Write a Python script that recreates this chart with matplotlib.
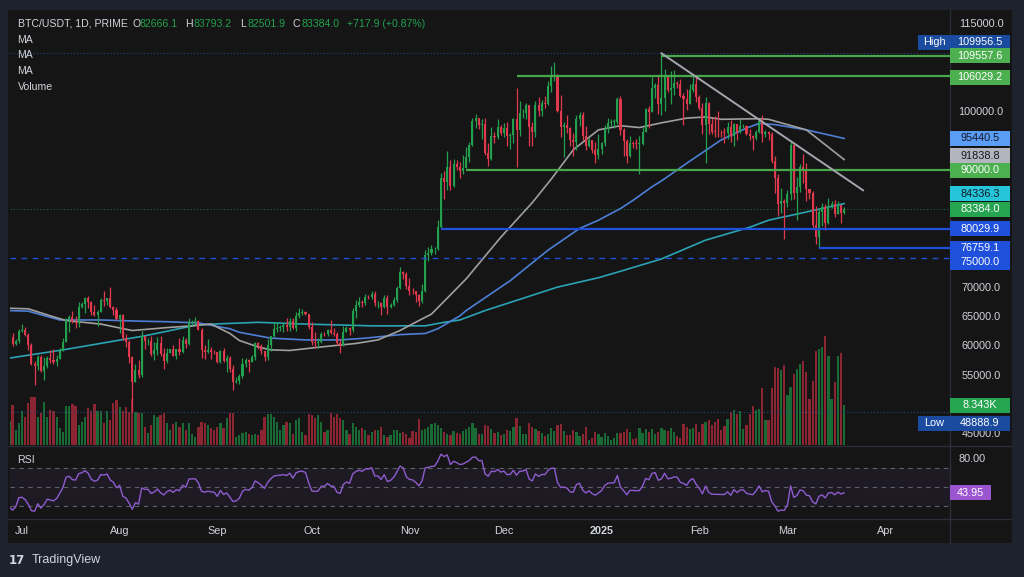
import numpy as np
import pandas as pd
import matplotlib
matplotlib.use("Agg")
import matplotlib.pyplot as plt
import matplotlib.dates as mdates
from matplotlib.patches import Rectangle
from matplotlib.lines import Line2D

plt.rcParams['font.family'] = ['Liberation Sans', 'DejaVu Sans']

W, H = 1024, 577

# ---------------- data (prices in k USDT, volume in k) ----------------
dates = pd.date_range('2024-06-27', '2025-03-19', freq='D')
first_open = 60.86

closes = [
    61.68, 60.32, 60.89, 62.68,
    # Jul
    62.77, 62.02, 60.21, 57.05, 56.64, 58.23, 55.85, 56.70, 58.05, 57.72, 57.34, 57.89, 59.20, 60.80, 64.72, 65.04,
    64.09, 63.97, 66.66, 67.14, 68.17, 67.53, 65.94, 65.37, 65.78, 67.91, 67.81, 68.25, 66.78, 66.19, 64.62,
    # Aug
    65.35, 61.50, 60.70, 58.16, 53.99, 56.03, 55.13, 61.69, 60.84, 60.92, 58.71, 59.35, 60.60, 58.74, 57.56, 58.87,
    59.49, 58.43, 59.49, 59.01, 61.16, 60.38, 64.09, 64.18, 64.25, 62.83, 59.42, 59.03, 59.37, 59.12, 58.97,
    # Sep
    57.30, 59.13, 57.48, 57.97, 56.16, 53.96, 54.16, 54.87, 57.05, 57.65, 57.34, 58.13, 60.57, 60.01, 59.18, 58.21,
    60.31, 61.76, 62.95, 63.20, 63.35, 63.58, 63.34, 64.26, 63.14, 65.18, 65.77, 65.86, 65.60, 63.30,
    # Oct
    60.81, 60.65, 60.75, 62.07, 62.06, 62.82, 62.22, 62.13, 60.58, 60.27, 62.45, 63.19, 62.85, 66.05, 67.04, 67.61,
    67.40, 68.42, 68.36, 69.00, 67.37, 67.38, 66.67, 68.16, 66.64, 67.01, 67.94, 69.91, 72.72, 72.34, 70.22,
    # Nov
    69.50, 69.37, 68.74, 67.80, 69.36, 75.64, 75.90, 76.55, 76.68, 80.37, 88.70, 87.96, 90.61, 87.25, 91.07, 90.59,
    89.86, 90.46, 92.31, 94.29, 98.35, 98.89, 97.67, 97.90, 93.01, 91.97, 95.86, 95.64, 97.46, 96.41,
    # Dec
    97.19, 95.84, 96.00, 98.77, 96.95, 99.74, 99.83, 101.11, 97.36, 96.59, 101.13, 100.04, 101.42, 101.37, 104.30,
    106.06, 106.13, 100.20, 97.46, 97.76, 97.22, 95.10, 94.88, 98.68, 99.39, 95.81, 94.16, 95.16, 93.53, 92.64, 93.58,
    # Jan
    94.59, 96.98, 98.10, 98.24, 98.31, 102.08, 96.92, 95.04, 92.48, 94.70, 94.57, 94.49, 94.52, 96.53, 100.50, 99.99,
    104.08, 104.56, 101.34, 102.26, 106.14, 103.65, 103.96, 104.82, 104.71, 102.62, 102.08, 101.33, 103.73, 104.73, 102.43,
    # Feb
    100.64, 97.69, 101.41, 97.87, 96.62, 96.55, 96.50, 96.46, 96.45, 97.43, 95.78, 97.87, 96.61, 97.50, 97.57, 96.12,
    95.78, 95.54, 96.62, 98.33, 96.13, 96.58, 96.28, 91.55, 88.74, 84.35, 84.70, 84.37,
    # Mar
    86.05, 94.27, 86.12, 87.19, 90.62, 89.96, 86.74, 86.15, 80.73, 78.60, 82.86, 83.72, 81.07, 83.97, 84.34, 82.58,
    84.08, 82.6661, 83.384,
]

highs = [
    62.29, 62.20, 61.20, 63.00,
    63.80, 63.30, 62.30, 60.50, 57.50, 58.50, 58.50, 58.20, 58.30, 59.40, 59.50, 58.50, 59.80, 61.40, 64.90, 65.40,
    66.10, 65.10, 67.50, 67.60, 68.40, 68.50, 67.80, 67.10, 66.20, 68.20, 69.40, 68.30, 70.10, 66.90, 66.70,
    65.60, 65.60, 62.10, 61.10, 58.30, 57.00, 57.70, 62.70, 61.70, 61.50, 61.80, 60.70, 61.60, 61.80, 59.80, 59.80,
    59.60, 60.30, 59.60, 61.40, 61.80, 61.40, 64.90, 64.50, 65.00, 64.50, 63.20, 60.20, 61.20, 59.90, 59.40,
    59.10, 59.40, 59.80, 58.50, 58.30, 56.90, 54.80, 55.30, 58.10, 58.00, 57.90, 58.60, 60.70, 60.70, 60.40, 59.20,
    61.30, 61.80, 64.10, 64.10, 63.60, 64.00, 64.80, 64.80, 64.80, 65.80, 66.50, 66.30, 66.10, 65.60,
    64.10, 62.40, 61.50, 62.50, 62.40, 62.90, 64.50, 63.20, 62.50, 61.30, 63.40, 63.50, 63.30, 66.50, 67.90, 68.40,
    67.90, 68.90, 68.70, 69.40, 69.50, 67.80, 67.50, 68.80, 68.80, 67.40, 68.40, 70.30, 73.60, 72.90, 72.70,
    71.60, 70.00, 69.40, 69.00, 70.60, 76.40, 76.90, 77.20, 76.90, 81.50, 89.50, 89.90, 93.30, 91.80, 91.90, 91.80,
    91.50, 92.60, 94.00, 94.90, 99.00, 99.60, 98.80, 98.70, 98.90, 94.70, 97.40, 96.60, 98.70, 97.80,
    98.00, 98.20, 96.30, 99.00, 104.00, 101.90, 100.50, 101.40, 101.20, 98.30, 101.90, 102.50, 102.00, 102.70, 105.20,
    107.80, 108.40, 106.50, 102.80, 98.20, 99.50, 97.40, 96.40, 99.40, 99.90, 99.90, 97.50, 95.50, 95.20, 94.90, 96.20,
    94.90, 97.80, 98.90, 98.70, 98.80, 102.50, 102.70, 97.30, 95.30, 95.80, 95.00, 95.40, 95.90, 97.40, 100.70, 100.90,
    105.90, 104.90, 106.30, 109.9565, 107.20, 106.30, 106.90, 107.10, 105.30, 105.50, 103.20, 103.80, 104.80, 106.50, 106.00,
    102.80, 101.50, 102.50, 101.70, 99.00, 99.20, 100.10, 96.90, 97.30, 98.30, 98.50, 98.10, 97.90, 98.80, 97.90, 97.70,
    97.00, 96.00, 96.90, 98.70, 99.50, 96.90, 96.70, 96.50, 92.50, 89.30, 87.00, 85.10,
    86.60, 94.90, 94.40, 88.90, 91.00, 92.80, 91.20, 86.90, 86.50, 83.90, 83.60, 84.40, 84.30, 85.30, 84.70, 85.00,
    84.70, 84.10, 83.7932,
]

lows = [
    60.59, 60.00, 60.30, 60.60,
    62.50, 61.80, 59.40, 56.80, 53.50, 56.00, 55.70, 54.30, 56.30, 57.20, 57.00, 56.60, 57.80, 59.20, 60.70, 62.40,
    64.00, 63.20, 63.30, 66.50, 65.70, 66.60, 65.40, 65.10, 63.40, 65.80, 66.80, 67.00, 66.50, 65.30, 64.50,
    62.30, 61.10, 59.90, 57.20, 48.8889, 54.00, 54.60, 54.80, 59.60, 60.30, 58.40, 57.60, 58.50, 58.40, 56.10, 57.10,
    58.80, 58.40, 57.80, 58.60, 58.80, 59.80, 60.30, 63.60, 63.80, 62.80, 58.10, 57.90, 58.80, 57.80, 58.70,
    57.20, 57.10, 57.40, 55.60, 55.70, 52.60, 53.70, 53.60, 54.60, 56.40, 55.60, 57.30, 57.60, 59.50, 58.70, 57.50,
    57.60, 59.20, 61.60, 62.40, 62.70, 62.40, 62.70, 62.70, 62.90, 62.70, 64.80, 65.40, 65.40, 62.90,
    60.20, 59.80, 59.80, 60.50, 61.70, 61.80, 62.10, 61.80, 60.30, 58.90, 60.00, 62.40, 62.00, 62.40, 64.80, 66.70,
    66.70, 67.10, 68.00, 68.10, 66.80, 66.60, 65.30, 66.60, 65.50, 66.50, 66.80, 67.50, 69.70, 71.40, 69.70,
    68.80, 69.00, 67.50, 66.80, 67.40, 69.30, 74.50, 75.60, 75.80, 76.50, 80.20, 85.10, 86.60, 86.70, 87.10, 90.10,
    88.70, 89.40, 90.40, 91.50, 94.10, 97.20, 97.10, 95.40, 92.60, 90.80, 91.80, 94.70, 95.30, 96.00,
    95.70, 94.20, 93.60, 94.70, 90.50, 95.90, 99.00, 98.70, 94.20, 94.20, 95.70, 99.30, 99.20, 100.60, 101.20,
    103.30, 105.30, 100.00, 95.70, 92.20, 96.40, 94.20, 92.40, 93.40, 97.60, 95.20, 93.40, 94.00, 93.00, 91.30, 92.00,
    92.80, 94.20, 96.40, 97.50, 97.30, 97.90, 96.10, 92.50, 91.20, 92.20, 93.80, 93.70, 89.30, 94.30, 96.50, 97.30,
    99.90, 102.30, 99.60, 99.50, 100.10, 103.30, 101.30, 102.80, 104.10, 102.50, 97.80, 100.30, 101.30, 103.30, 101.60,
    100.30, 96.20, 91.20, 96.20, 96.20, 95.70, 95.60, 95.70, 94.70, 95.30, 94.90, 94.10, 95.20, 96.30, 97.20, 96.00,
    95.20, 93.40, 95.20, 96.40, 94.90, 95.70, 95.20, 91.20, 86.10, 82.30, 82.80, 78.30,
    83.80, 85.00, 85.10, 81.50, 86.30, 87.80, 84.70, 85.20, 80.00, 77.50, 76.7591, 80.60, 79.90, 80.80, 83.60, 82.00,
    82.50, 81.10, 82.5019,
]

volume = [
    5.0, 8.4, 3.1, 4.5,
    7.0, 5.9, 8.7, 10.1, 10.1, 5.9, 6.6, 9.0, 5.9, 7.3, 7.0, 5.9, 3.5, 2.8, 8.2, 8.2,
    8.6, 8.2, 4.2, 4.9, 5.9, 7.7, 7.0, 8.6, 7.0, 7.0, 4.5, 7.0, 5.2, 8.8, 9.4,
    8.0, 7.0, 8.0, 6.8, 9.5, 6.8, 6.6, 6.6, 3.8, 2.5, 4.2, 6.3, 5.9, 6.3, 6.6, 4.5,
    3.1, 4.4, 4.7, 3.8, 4.5, 3.1, 4.5, 2.4, 1.7, 3.8, 4.9, 4.5, 4.2, 3.5, 3.1,
    3.8, 4.5, 3.5, 5.6, 6.6, 6.6, 1.7, 2.1, 2.6, 2.8, 2.4, 2.1, 2.3, 2.1, 3.1, 5.9,
    6.4, 6.4, 5.9, 4.7, 3.1, 4.2, 4.9, 4.5, 2.4, 5.2, 5.6, 2.8, 2.1, 6.4,
    6.3, 5.6, 6.3, 4.9, 2.8, 3.1, 6.6, 5.9, 6.5, 5.6, 5.2, 3.1, 2.4, 4.5, 3.8, 3.1,
    3.5, 3.1, 2.1, 2.8, 3.1, 3.1, 3.8, 2.1, 1.7, 2.1, 3.1, 3.1, 2.6, 2.8, 2.3,
    1.4, 3.0, 2.8, 5.4, 3.1, 3.3, 3.8, 4.3, 4.5, 4.2, 3.5, 2.8, 2.4, 2.1, 3.0, 2.5,
    2.2, 3.0, 3.4, 3.8, 4.5, 3.6, 2.4, 2.2, 4.2, 3.9, 3.3, 2.5, 2.8, 2.0,
    2.4, 3.2, 3.0, 3.8, 5.6, 3.9, 2.2, 2.4, 4.6, 3.8, 3.4, 2.9, 2.6, 1.9, 2.2, 3.6, 2.9, 4.1, 4.4,
    2.9, 2.1, 2.1, 3.1, 2.8, 1.9, 2.4, 3.8, 1.0, 1.5, 2.8, 2.3, 1.6, 2.6, 1.9, 1.0, 1.4, 2.6, 2.6, 2.8,
    3.3, 2.8, 1.2, 1.4, 3.5, 2.6, 3.3, 2.8, 3.3, 2.2, 2.8, 3.5, 3.1, 3.0, 3.5, 2.8, 1.9, 1.5, 4.3, 3.7,
    3.4, 3.6, 4.4, 2.8, 4.3, 4.8, 5.2, 4.2, 4.7, 5.5, 3.1, 4.0, 5.4, 6.8, 7.3, 6.5, 7.0, 3.3, 4.2, 6.5,
    8.2, 7.3, 7.6, 12.0, 5.2, 5.2, 11.8, 16.2, 16.1, 15.7, 16.6, 10.4, 12.2, 14.8, 15.8, 16.9, 17.5, 15.2, 9.5, 13.4,
    19.7, 20.0, 20.4, 22.8, 18.6, 9.5, 13.2, 18.6, 19.3, 8.343,
]

# closes of Jun 7 - Jun 26 2024, only used to warm up the RSI
pre_closes = [69.35, 69.31, 69.65, 69.51, 67.32, 68.24, 66.76, 66.01, 66.19, 66.64,
              66.49, 65.18, 64.96, 64.83, 64.10, 64.25, 63.18, 60.28, 61.81, 60.84]

# moving averages
ma50_dates = ['2024-06-27', '2024-07-03', '2024-07-10', '2024-07-15', '2024-07-26', '2024-08-05', '2024-08-16',
              '2024-08-24', '2024-08-30', '2024-09-05', '2024-09-08', '2024-09-14', '2024-09-18', '2024-09-24',
              '2024-10-04', '2024-10-15', '2024-10-22', '2024-10-29', '2024-11-04', '2024-11-08', '2024-11-19',
              '2024-11-30', '2024-12-10', '2024-12-16', '2024-12-23', '2024-12-31', '2025-01-07', '2025-01-13',
              '2025-01-20', '2025-01-28', '2025-02-03', '2025-02-08', '2025-02-20', '2025-02-23', '2025-03-07',
              '2025-03-19']
ma50 = [66.5, 66.4, 65.2, 64.4, 63.8, 62.7, 63.2, 63.5, 63.8, 62.2, 61.0, 59.9, 59.4, 59.3, 59.9, 60.5, 61.1,
        62.7, 64.4, 65.5, 71.5, 78.6, 84.5, 88.5, 93.5, 96.9, 97.6, 97.3, 98.1, 98.9, 99.1, 98.7, 98.8, 98.7,
        96.9, 91.8388]

ma100_dates = ['2024-06-27', '2024-07-03', '2024-07-13', '2024-07-26', '2024-08-07', '2024-08-16', '2024-08-26',
               '2024-09-05', '2024-09-08', '2024-09-18', '2024-09-29', '2024-10-10', '2024-10-18', '2024-10-29',
               '2024-11-06', '2024-11-10', '2024-11-17', '2024-11-19', '2024-12-03', '2024-12-15', '2024-12-25',
               '2024-12-31', '2025-01-07', '2025-01-11', '2025-01-17', '2025-01-20', '2025-01-28', '2025-02-08',
               '2025-02-16', '2025-02-20', '2025-02-25', '2025-03-07', '2025-03-19']
ma100 = [66.1, 66.0, 64.5, 64.5, 64.3, 64.2, 64.0, 63.0, 62.4, 61.4, 61.1, 61.1, 61.4, 62.0, 62.2, 63.0, 65.2,
         66.1, 71.2, 76.4, 80.1, 81.5, 83.5, 84.9, 87.2, 88.2, 91.2, 95.2, 97.2, 98.0, 97.8, 96.9, 95.4405]

ma200_dates = ['2024-06-27', '2024-07-14', '2024-08-09', '2024-08-26', '2024-09-14', '2024-09-29', '2024-10-20',
               '2024-11-06', '2024-11-12', '2024-11-17', '2024-11-25', '2024-12-18', '2024-12-31', '2025-01-07',
               '2025-01-20', '2025-02-03', '2025-02-17', '2025-02-23', '2025-03-07', '2025-03-19']
ma200 = [58.0, 59.4, 61.8, 63.7, 64.1, 63.8, 63.5, 63.5, 64.1, 64.5, 66.1, 70.1, 71.7, 72.8, 74.9, 78.1, 80.3,
         81.5, 82.9, 84.3363]

# drawn levels
green_levels = [109.5576, 106.0292, 90.0]
green_starts = ['2025-01-20', '2024-12-05', '2024-11-19']
blue_levels = [80.0299, 76.7591]
blue_starts = ['2024-11-11', '2025-03-11']
dashed_level = 75.0
trend_dates = ['2025-01-20', '2025-03-25']
trend_prices = [109.9565, 86.6]
high_val, low_val = 109.9565, 48.8889
rsi_last = 43.95

month_ticks = ['2024-07-01', '2024-08-01', '2024-09-01', '2024-10-01', '2024-11-01', '2024-12-01',
               '2025-01-01', '2025-02-01', '2025-03-01', '2025-04-01']
month_labels = ['Jul', 'Aug', 'Sep', 'Oct', 'Nov', 'Dec', '2025', 'Feb', 'Mar', 'Apr']

# ---------------- colours ----------------
BG_OUT = '#1e222d'
BG_IN = '#151515'
UP, DN = '#22a04e', '#e0394d'
TXT = '#d1d4dc'
GREEN_LINE = '#46a84a'
BLUE_LINE = '#1e50dc'
SEP = '#2a2e39'

fig = plt.figure(figsize=(W / 100, H / 100), dpi=100, facecolor=BG_OUT)


def frect(x0, y0, x1, y1, color, z):
    fig.patches.append(Rectangle((x0 / W, 1 - y1 / H), (x1 - x0) / W, (y1 - y0) / H,
                                 transform=fig.transFigure, fc=color, ec='none', zorder=z))


def ftext(x, y, s, **kw):
    kw.setdefault('color', TXT)
    kw.setdefault('fontsize', 7.8)
    kw.setdefault('va', 'center')
    return fig.text(x / W, 1 - y / H, s, **kw)


def fline(x0, y0, x1, y1):
    fig.lines.append(Line2D([x0 / W, x1 / W], [1 - y0 / H, 1 - y1 / H], transform=fig.transFigure,
                            color=SEP, lw=1, zorder=1))


frect(8, 10, 1012, 543, BG_IN, -5)

rect_main = [10 / W, 1 - 445 / H, 940 / W, 435 / H]
axv = fig.add_axes(rect_main, zorder=1)
ax = fig.add_axes(rect_main, zorder=2, sharex=axv)
axr = fig.add_axes([10 / W, 1 - 518 / H, 940 / W, 71 / H], zorder=2, sharex=axv)
for a in (axv, ax, axr):
    a.set_facecolor('none')
    a.set_axis_off()

jul1 = mdates.date2num(pd.Timestamp('2024-07-01'))
xmin = jul1 - 12 / 3.15
xmax = xmin + 940 / 3.15
ax.set_xlim(xmin, xmax)
ax.set_ylim(43.19, 117.33)
axv.set_ylim(0, 435 / 4.79)
axr.set_ylim(17.4, 92.1)

xs = mdates.date2num(dates)
c = np.array(closes)
hi = np.array(highs)
lo = np.array(lows)
o = np.r_[first_open, c[:-1]]
up = c >= o
cols = np.where(up, UP, DN)

# volume
vcols = np.where(up, '#1a6a36', '#8c2532')
axv.bar(xs, volume, width=0.72, color=vcols, linewidth=0)

# candles
ax.vlines(xs, lo, hi, colors=cols, lw=0.9, zorder=4)
ax.bar(xs, np.maximum(np.abs(c - o), 0.1), bottom=np.minimum(o, c), width=0.66, color=cols,
       linewidth=0, zorder=5)

# moving averages
ax.plot(mdates.date2num(pd.to_datetime(ma200_dates)), ma200, color='#2aa3b4', lw=1.2, zorder=3)
ax.plot(mdates.date2num(pd.to_datetime(ma100_dates)), ma100, color='#4d7fd6', lw=1.2, zorder=3)
ax.plot(mdates.date2num(pd.to_datetime(ma50_dates)), ma50, color='#a0a0a0', lw=1.2, zorder=3)

# levels
for lv, st in zip(green_levels, green_starts):
    ax.hlines(lv, mdates.date2num(pd.Timestamp(st)), xmax, color=GREEN_LINE, lw=1.6, zorder=6)
for lv, st in zip(blue_levels, blue_starts):
    ax.hlines(lv, mdates.date2num(pd.Timestamp(st)), xmax, color=BLUE_LINE, lw=1.6, zorder=6)
ax.axhline(dashed_level, color=BLUE_LINE, lw=1.0, ls=(0, (4, 4)), zorder=6)
ax.axhline(high_val, color='#23457f', lw=0.8, ls=(0, (1, 2)), zorder=2)
ax.axhline(low_val, color='#23457f', lw=0.8, ls=(0, (1, 2)), zorder=2)
ax.axhline(c[-1], color='#1d6a38', lw=0.8, ls=(0, (1, 2)), zorder=2)
ax.plot(mdates.date2num(pd.to_datetime(trend_dates)), trend_prices, color='#a3a6ae', lw=1.4, zorder=6)

# RSI (Wilder, 14)
allc = np.array(pre_closes + closes)
d = np.diff(allc)
g = np.clip(d, 0, None)
ls_ = np.clip(-d, 0, None)
ag, al = g[:14].mean(), ls_[:14].mean()
rsi_all = []
for i in range(14, len(d)):
    ag = (ag * 13 + g[i]) / 14
    al = (al * 13 + ls_[i]) / 14
    rsi_all.append(100 - 100 / (1 + ag / al))
rsi = np.array(rsi_all[len(pre_closes) - 15:])
axr.axhspan(30, 70, color='#7e57c2', alpha=0.09, lw=0)
for lv in (70, 50, 30):
    axr.axhline(lv, color='#5d606b', lw=0.8, ls=(0, (4, 4)))
axr.plot(xs, rsi, color='#8e5ccf', lw=1.0)

# separators
fline(950, 10, 950, 543)
fline(8, 446, 1012, 446)
fline(8, 518.5, 1012, 518.5)


def py(axis, v):
    return H - axis.transData.transform((xmin, v))[1]


def px(axis, v):
    return axis.transData.transform((v, 0))[0]


HL = '#1b4b9e'
# (y in px, text, background, text colour, x0, x1)
tags = [
    (py(ax, high_val) - 11, '109956.5', HL, 'white', 950, 1010),
    (py(ax, high_val) - 11, 'High', HL, 'white', 918, 950),
    (py(ax, green_levels[0]), '109557.6', '#4caf50', 'white', 950, 1010),
    (py(ax, green_levels[1]) + 1, '106029.2', '#4caf50', 'white', 950, 1010),
    (py(ax, ma100[-1]), '95440.5', '#5b9cf6', '#131722', 950, 1010),
    (py(ax, ma50[-1]) - 4, '91838.8', '#b2b5be', '#131722', 950, 1010),
    (py(ax, green_levels[2]), '90000.0', '#4caf50', 'white', 950, 1010),
    (py(ax, ma200[-1]) - 10, '84336.3', '#26c6da', '#131722', 950, 1010),
    (py(ax, c[-1]), '83384.0', '#26a550', 'white', 950, 1010),
    (py(ax, blue_levels[0]), '80029.9', BLUE_LINE, 'white', 950, 1010),
    (py(ax, blue_levels[1]), '76759.1', BLUE_LINE, 'white', 950, 1010),
    (py(ax, dashed_level) + 4, '75000.0', BLUE_LINE, 'white', 950, 1010),
    (py(axv, volume[-1]), f'{volume[-1]:.3f}K', '#26a550', 'white', 950, 1010),
    (py(ax, low_val) + 11.5, '48888.9', HL, 'white', 950, 1010),
    (py(ax, low_val) + 11.5, 'Low', HL, 'white', 918, 950),
    (py(axr, rsi_last), f'{rsi_last:.2f}', '#9b55d0', 'white', 950, 991),
]

# price scale tick labels (hidden where a tag covers them, as on the chart)
tag_ys = [t[0] for t in tags if t[4] == 950]
for p in range(45, 120, 5):
    y = py(ax, p)
    if 10 < y < 445 and all(abs(y - ty) >= 10.5 for ty in tag_ys):
        ftext(981, y, f'{p * 1000:.1f}', ha='center', zorder=2)
ftext(972, py(axr, 80), '80.00', ha='center', zorder=2)

for y, s, bg, fg, x0, x1 in tags:
    frect(x0, y - 7.5, x1, y + 7.5, bg, 4)
    ftext((x0 + x1) / 2, y, s, ha='center', color=fg, zorder=5)

# time axis
for t, lab in zip(month_ticks, month_labels):
    ftext(px(axr, mdates.date2num(pd.Timestamp(t))), 531, lab, ha='center',
          fontweight='bold' if lab == '2025' else 'normal')

# legend / header
ftext(17.5, 24, 'BTC/USDT, 1D, PRIME', ha='left', fontsize=7.6)
hdr = [(132.5, 'O', TXT), (139, '82666.1', '#22a04e'), (185.5, 'H', TXT), (193, '83793.2', '#22a04e'),
       (240, 'L', TXT), (247, '82501.9', '#22a04e'), (292.5, 'C', TXT), (301, '83384.0', '#22a04e'),
       (347, '+717.9 (+0.87%)', '#22a04e')]
for x, s, col in hdr:
    ftext(x, 24, s, ha='left', color=col, fontsize=7.6)
for y, s in ((40, 'MA'), (55.5, 'MA'), (71, 'MA'), (87, 'Volume')):
    ftext(17.5, y, s, ha='left', fontsize=7.6)
ftext(17.5, 460, 'RSI', ha='left', fontsize=7.6)

# footer logo
ftext(9, 560, '17', ha='left', fontsize=8.5, fontweight='heavy', family='DejaVu Sans')
ftext(32, 560, 'TradingView', ha='left', fontsize=9)

fig.savefig('out.png', dpi=100, facecolor=BG_OUT)
